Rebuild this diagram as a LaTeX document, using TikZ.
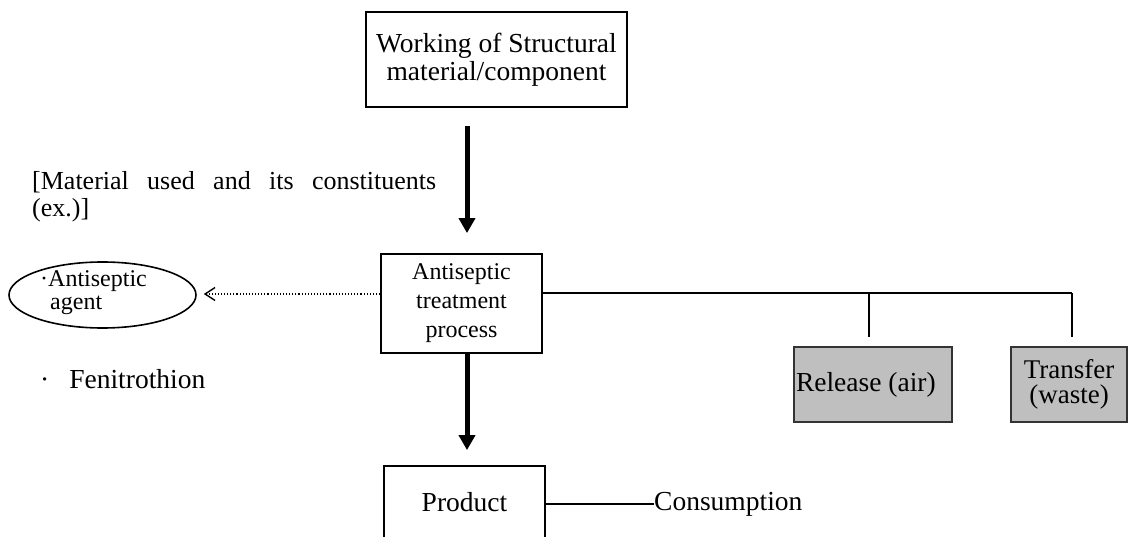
\documentclass[tikz,border=0pt]{standalone}
\usepackage{fontspec}
\setmainfont{Liberation Serif}
\usetikzlibrary{arrows.meta,shapes.geometric}
\begin{document}
\begin{tikzpicture}[x=1pt,y=-1pt,
  box/.style={draw,line width=1.8pt,inner sep=0pt,align=center},
  graybox/.style={draw=black!80,fill=black!25,line width=1.8pt,inner sep=0pt},
  bigarrow/.style={line width=5pt,-{Triangle[width=16pt,length=15pt]}},
  thinline/.style={line width=1.6pt},
  big/.style={font=\fontsize{27.5}{28}\selectfont},
  small/.style={font=\fontsize{24}{29}\selectfont},
  lbl/.style={inner sep=0pt,anchor=base west,align=left}]
\useasboundingbox (0,0) rectangle (1128,537);
\clip (0,0) rectangle (1128,537);

% boxes
\node[box,big,minimum width=261pt,minimum height=95pt]
  (work) at (496.5,59.5) {Working of Structural\\material/component};
\node[box,small,minimum width=161pt,minimum height=99pt]
  (treat) at (461.5,303.5) {Antiseptic\\treatment\\process};
\node[box,big,minimum width=161pt,minimum height=72pt]
  (prod) at (464.5,502) {Product};
\node[draw,ellipse,line width=1.6pt,minimum width=187pt,minimum height=66pt,inner sep=0pt]
  (agent) at (102.5,295) {};
% multi-line labels are placed by the baseline of their last line
\node[lbl,font=\fontsize{24}{23}\selectfont] (agenttxt) at (40,310)
  {·Antiseptic\\\hspace*{10pt}agent};
\node[graybox,big,minimum height=75pt,text width=154pt,inner xsep=2pt,align=flush left]
  (air) at (873,384.5) {Release (air)};
\node[graybox,font=\fontsize{27}{25}\selectfont,minimum width=116pt,minimum height=75pt,align=center]
  (waste) at (1069,384.5) {Transfer\\(waste)};

% labels
\node[lbl,font=\fontsize{26}{27}\selectfont] (matl) at (32,217)
  {\makebox[404pt][s]{[Material used and its constituents}\\(ex.)]};
\node[lbl,big] (fen) at (40,389)
  {·\hspace{20pt}Fenitrothion};
\node[lbl,big] (cons) at (654,510) {Consumption};

% main flow, along one vertical axis
\coordinate (ax) at (467,0);
\draw[bigarrow,shorten <=18pt,shorten >=20pt] (work.south -| ax) -- (treat.north -| ax);
\draw[bigarrow,shorten >=15pt] (treat.south -| ax) -- (prod.north -| ax);

% dotted output to the agent
\draw[line width=1.1pt,dotted,-{Straight Barb[width=13pt,length=10pt,line width=1.4pt]},shorten >=7pt]
  ([yshift=9.5pt]treat.west) -- ([yshift=9.5pt]treat.west -| agent.east);

% branch line to release / transfer
\coordinate (b0) at ([yshift=10.5pt]treat.east);
\coordinate (b1) at (869,293);
\coordinate (b2) at (1072,293);
\draw[thinline] (b0) -- (b2);
\draw[thinline] (b1) -- ++(0,44);
\draw[thinline] (b2) -- ++(0,44);

% consumption
\draw[thinline] (prod.east |- cons.west) -- (cons.west);
\end{tikzpicture}
\end{document}
